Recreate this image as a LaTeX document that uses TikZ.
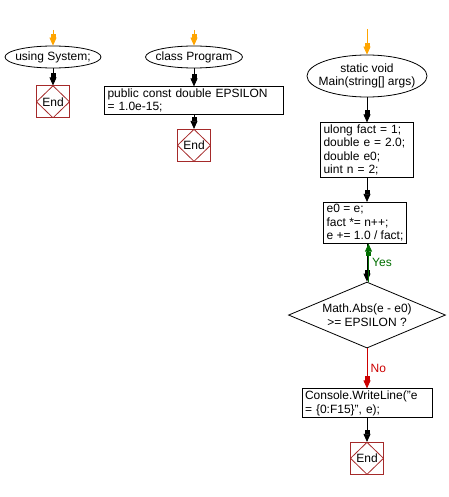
\documentclass[tikz,border=0pt]{standalone}
\usepackage{fontspec}
\setmainfont{Liberation Sans}
\usetikzlibrary{shapes.geometric,positioning,arrows.meta}

\definecolor{startorange}{RGB}{255,165,0}
\definecolor{endred}{RGB}{165,42,42}
\definecolor{yesgreen}{RGB}{0,110,0}
\definecolor{nored}{RGB}{204,0,0}

\begin{document}
\begin{tikzpicture}[x=1pt,y=-1pt,
    >={Rectangle[length=4pt,width=5pt,sep=0pt]Triangle[length=8pt,width=7pt]},line width=0.8pt,
    font=\fontsize{12}{13.5}\selectfont]
  \tikzstyle{term}=[ellipse,draw,inner xsep=-6pt,inner ysep=0pt,align=center]
  \tikzstyle{proc}=[rectangle,draw,align=left,inner xsep=3pt,inner ysep=2pt]
  \tikzstyle{decide}=[diamond,draw,aspect=2.38,inner sep=0pt,minimum width=157pt,minimum height=66pt,align=center]
  \tikzstyle{stop}=[rectangle,draw=endred,minimum width=33pt,minimum height=32pt,inner sep=0pt,
    path picture={\draw[endred] (path picture bounding box.north) -- (path picture bounding box.east)
      -- (path picture bounding box.south) -- (path picture bounding box.west) -- cycle;}]

  \useasboundingbox (0,0) rectangle (448,497);

  %--- using ---
  \coordinate (s1) at (53,30);
  \node[term,minimum width=96pt,minimum height=22pt] (usg) at (53,57) {using System;};
  \node[stop] (end1) [below=17pt of usg] {End};

  %--- class ---
  \coordinate (s2) at (194,30);
  \node[term,minimum width=97pt,minimum height=22pt] (cls) at (194,57) {class Program};
  \node[proc,text width=173pt] (eps) [below=18pt of cls] {public const double EPSILON\\= 1.0e-15;};
  \node[stop] (end2) [below=14pt of eps] {End};

  %--- Main ---
  \coordinate (s3) at (367,29);
  \node[term,minimum width=120pt,minimum height=42pt] (mn) at (367,76) {static void\\Main(string[] args)};
  \node[proc,text width=87pt] (init) [below=25pt of mn] {ulong fact = 1;\\double e = 2.0;\\double e0;\\uint n = 2;};
  \node[proc] (body) [below=24pt of init,xshift=-2pt] {e0 = e;\\fact *= n++;\\e += 1.0 / fact;};
  \node[decide] (test) [below=38pt of body,xshift=2pt] {Math.Abs(e - e0)\\>= EPSILON ?};
  \node[proc,text width=124pt] (out) [below=40pt of test] {Console.WriteLine("e\\= \{0:F15\}", e);};
  \node[stop] (end3) [below=24pt of out] {End};

  %--- Connectors ---
  \draw[->,startorange] (s1) -- (usg);
  \draw[->] (usg) -- (end1);

  \draw[->,startorange] (s2) -- (cls);
  \draw[->] (cls) -- (cls |- eps.north);
  \draw[->] (eps.south -| end2) -- (end2);

  \draw[->,startorange] (s3) -- (mn);
  \draw[->] (mn) -- (init);
  \draw[->] (init.south) -- (init.south |- body.north);
  \draw[->] (body.south -| test.north) -- (test.north);
  % loop back on Yes
  \draw[->,yesgreen] ([xshift=1.5pt]test.north) -- ([xshift=1.5pt]test.north |- body.south)
    node[midway,right] {Yes};
  \draw[->,nored] (test) -- node[right] {No} (out);
  \draw[->] (out) -- (end3);
\end{tikzpicture}
\end{document}
